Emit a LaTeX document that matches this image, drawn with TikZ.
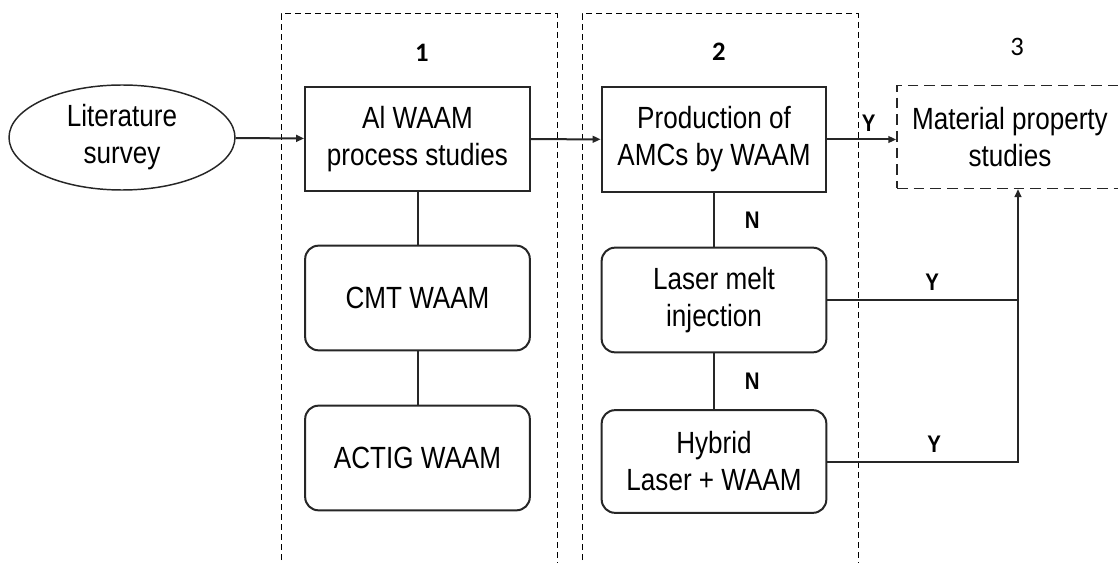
\documentclass[tikz,border=0pt]{standalone}
\usepackage{fontspec}
\setmainfont{Liberation Sans}[FakeStretch=0.85]
\newfontfamily\numfont{Carlito}
\usepackage{tikz}
\usetikzlibrary{shapes.geometric}
\usetikzlibrary{arrows.meta}
\usetikzlibrary{positioning}

\begin{document}
\begin{tikzpicture}
    [x=0.75pt, y=-0.75pt,
     every node/.style={align=center, font=\fontsize{23}{27.75}\selectfont},
     link/.style={line width=1.5pt, draw=black!85},
     arrowlink/.style={link, -{Triangle[length=6pt, width=5pt]}},
     stepbox/.style={draw=black!85, line width=1.5pt, rectangle, inner sep=0pt,
                     minimum width=168.5pt, minimum height=78.5pt},
     roundbox/.style={stepbox, rounded corners=10pt},
     phase/.style={draw=black, line width=0.75pt, dash pattern=on 4.5pt off 3pt},
     yn/.style={font=\fontsize{18}{20}\bfseries\selectfont}]
    \useasboundingbox (0, 0) rectangle (1118, 563);

    % the two phase frames run off the bottom
    \draw [phase] (281, 580) -- (281, 14) -- (557, 14) -- (557, 580);
    \draw [phase] (582, 580) -- (582, 14) -- (858, 14) -- (858, 580);

    \node (one) at (422, 53) {\numfont\fontsize{20}{22}\bfseries\selectfont 1};
    \node (two) at (719, 52) {\numfont\fontsize{20}{22}\bfseries\selectfont 2};
    \node (three) at (1017, 47) {\numfont\fontsize{20}{22}\selectfont 3};

    \node (survey) [draw=black!85, line width=1.1pt, ellipse, inner sep=0pt,
      minimum width=169.5pt, minimum height=78.75pt] at (122, 137.5) {
      Literature \\ survey
    };

    % phase 1
    \node (process) [stepbox] at (417.5, 139) {
      Al WAAM \\ process studies
    };
    \node (cmt) [roundbox] at (417.5, 298) {CMT WAAM};
    \node (actig) [roundbox] at (417.5, 458) {ACTIG WAAM};

    % phase 2
    \node (amc) [stepbox] at (714, 139.5) {
      Production of \\ AMCs by WAAM
    };
    \node (laser) [roundbox] at (714, 300) {
      Laser melt \\ injection
    };
    \node (hybrid) [roundbox, minimum height=77pt] at (714, 461.5) {
      Hybrid \\ Laser + WAAM
    };

    % phase 3
    \node (material) [draw=black!85, line width=1.1pt, dash pattern=on 8pt off 4.5pt,
      inner sep=0pt, minimum width=169.5pt, minimum height=77pt] at (1010, 137) {
      Material property \\ studies
    };

    \coordinate (join) at (1018, 301);

    \draw [arrowlink] (survey) -- (process);
    \draw [arrowlink] (process) -- (amc);
    \draw [arrowlink] (amc.east) -- (material.west |- amc.east)
      node [yn, pos=0.6, above = 2pt] {Y};
    \draw [link] (process) -- (cmt);
    \draw [link] (cmt) -- (actig);
    \draw [link] (amc) -- (laser) node [yn, midway, right = 19pt] {N};
    \draw [link] (laser) -- (hybrid) node [yn, midway, right = 19pt] {N};
    \draw [link] (laser.east) -- (laser.east -| join)
      node [yn, pos=0.55, above = 3pt] {Y};
    \draw [arrowlink] (hybrid.east) -| (join |- material.south)
      node [yn, pos=0.28, above = 3pt] {Y};
  \end{tikzpicture}
\end{document}
